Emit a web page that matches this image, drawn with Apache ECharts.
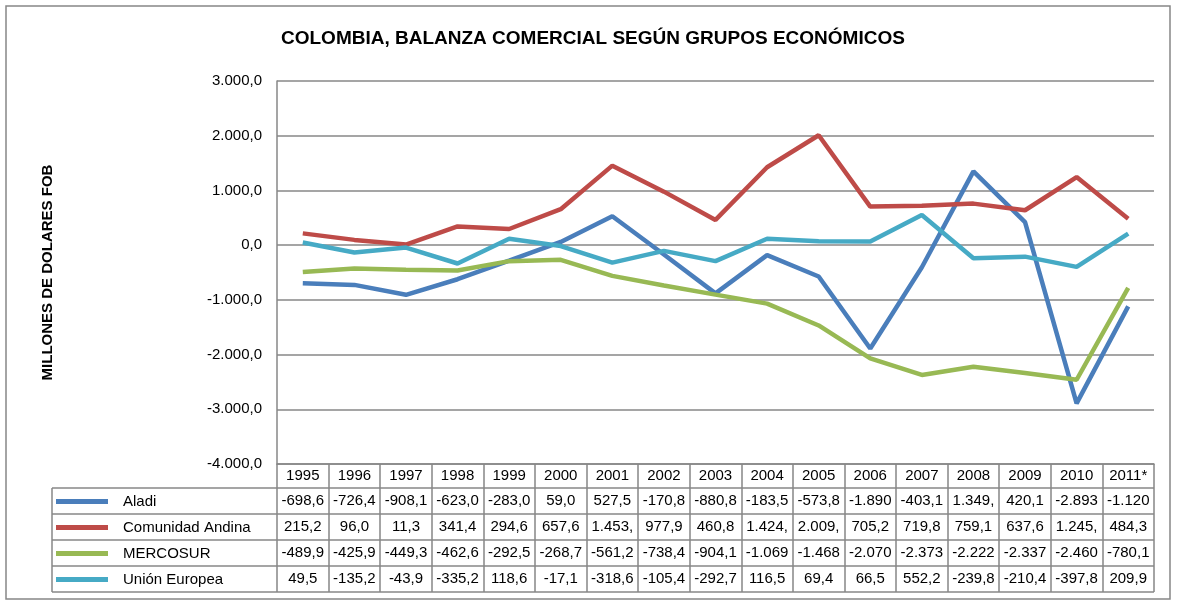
<!DOCTYPE html>
<html>
<head>
<meta charset="utf-8">
<script src="https://cdn.jsdelivr.net/npm/echarts@6/dist/echarts.min.js"></script>
<style>
  html, body { margin: 0; padding: 0; background: #fff; }
  #chart { width: 1177px; height: 604px; }
</style>
</head>
<body>
<div id="chart"></div>
<script>
// data
var years = ['1995','1996','1997','1998','1999','2000','2001','2002','2003','2004','2005','2006','2007','2008','2009','2010','2011*'];
var aladi = [-698.6,-726.4,-908.1,-623.0,-283.0,59.0,527.5,-170.8,-880.8,-183.5,-573.8,-1890,-403.1,1349,420.1,-2893,-1120];
var andina = [215.2,96.0,11.3,341.4,294.6,657.6,1453,977.9,460.8,1424,2009,705.2,719.8,759.1,637.6,1245,484.3];
var mercosur = [-489.9,-425.9,-449.3,-462.6,-292.5,-268.7,-561.2,-738.4,-904.1,-1069,-1468,-2070,-2373,-2222,-2337,-2460,-780.1];
var europa = [49.5,-135.2,-43.9,-335.2,118.6,-17.1,-318.6,-105.4,-292.7,116.5,69.4,66.5,552.2,-239.8,-210.4,-397.8,209.9];

var names = ['Aladi', 'Comunidad Andina', 'MERCOSUR', 'Unión Europea'];
var colors = ['#4a7ebb', '#be4b48', '#98b954', '#46aac5'];
var seriesData = [aladi, andina, mercosur, europa];

var font = 'Liberation Sans, Arial, sans-serif';
var gray = '#878787';

// spanish number format, cut to the cell width like the spreadsheet does
function fmt(v, cut) {
  var parts = Math.abs(v).toFixed(1).split('.');
  var intPart = parts[0].replace(/\B(?=(\d{3})+(?!\d))/g, '.');
  var s = (v < 0 ? '-' : '') + intPart + ',' + parts[1];
  return cut ? s.slice(0, 6) : s;
}

// table layout
var plotLeft = 277, plotRight = 1154, plotTop = 81, plotBottom = 464;
var headerH = 24, rowH = 26, tableLeft = 52;
var tableBottom = plotBottom + headerH + rowH * 4;

var xAxes = [{
  type: 'category',
  data: years,
  boundaryGap: true,
  axisLine: { onZero: false, lineStyle: { color: gray, width: 1.5 } },
  axisTick: { show: true, length: tableBottom - plotBottom, lineStyle: { color: gray, width: 1.5 } },
  axisLabel: { interval: 0, margin: 4, color: '#000', fontFamily: font, fontSize: 15 }
}];
seriesData.forEach(function (d, i) {
  xAxes.push({
    type: 'category',
    data: d.map(function (v) { return fmt(v, true); }),
    boundaryGap: true,
    position: 'bottom',
    offset: headerH + rowH * i + 5,
    axisLine: { show: false, onZero: false },
    axisTick: { show: false },
    axisLabel: { interval: 0, margin: 0, color: '#000', fontFamily: font, fontSize: 15 }
  });
});

var graphics = [{
  type: 'rect',
  shape: { x: 6, y: 6, width: 1164, height: 593 },
  style: { fill: 'none', stroke: gray, lineWidth: 1.5 }
}, {
  type: 'line',
  shape: { x1: tableLeft, y1: plotBottom + headerH, x2: tableLeft, y2: tableBottom },
  style: { stroke: gray, lineWidth: 1.5 }
}];
for (var r = 0; r <= 4; r++) {
  var y = plotBottom + headerH + rowH * r;
  graphics.push({
    type: 'line',
    shape: { x1: tableLeft, y1: y, x2: plotRight, y2: y },
    style: { stroke: gray, lineWidth: 1.5 }
  });
}

var chart = echarts.init(document.getElementById('chart'));
chart.setOption({
  animation: false,
  title: {
    text: 'COLOMBIA, BALANZA COMERCIAL SEGÚN GRUPOS ECONÓMICOS',
    left: 276,
    top: 24,
    textStyle: { fontFamily: font, fontSize: 19, fontWeight: 'bold', color: '#000' }
  },
  legend: {
    orient: 'vertical',
    left: 51,
    top: plotBottom + headerH + 1,
    itemWidth: 52,
    itemHeight: 14,
    itemGap: rowH - 15,
    itemStyle: { borderWidth: 0 },
    textStyle: { fontFamily: font, fontSize: 15, lineHeight: 14, color: '#000', padding: [0, 0, 0, 10] },
    data: names.map(function (n, i) {
      return { name: n, icon: 'path://M0,4.5 L52,4.5 L52,9.5 L0,9.5 Z', itemStyle: { color: colors[i] } };
    })
  },
  grid: {
    left: plotLeft,
    right: 1177 - plotRight,
    top: plotTop,
    bottom: 604 - plotBottom
  },
  xAxis: xAxes,
  yAxis: {
    type: 'value',
    min: -4000,
    max: 3000,
    interval: 1000,
    name: 'MILLONES DE DOLARES FOB',
    nameLocation: 'middle',
    nameGap: 222,
    nameTextStyle: { fontFamily: font, fontSize: 15, fontWeight: 'bold', color: '#000' },
    axisLine: { show: true, lineStyle: { color: gray, width: 1.5 } },
    axisTick: { show: false },
    axisLabel: {
      margin: 15,
      color: '#000',
      fontFamily: font,
      fontSize: 15,
      formatter: function (v) { return fmt(v, false); }
    },
    splitLine: { lineStyle: { color: gray, width: 1.5 } }
  },
  graphic: graphics,
  series: seriesData.map(function (d, i) {
    return {
      name: names[i],
      type: 'line',
      data: d,
      symbol: 'none',
      color: colors[i],
      lineStyle: { width: 4.5, color: colors[i] }
    };
  })
});
</script>
</body>
</html>
